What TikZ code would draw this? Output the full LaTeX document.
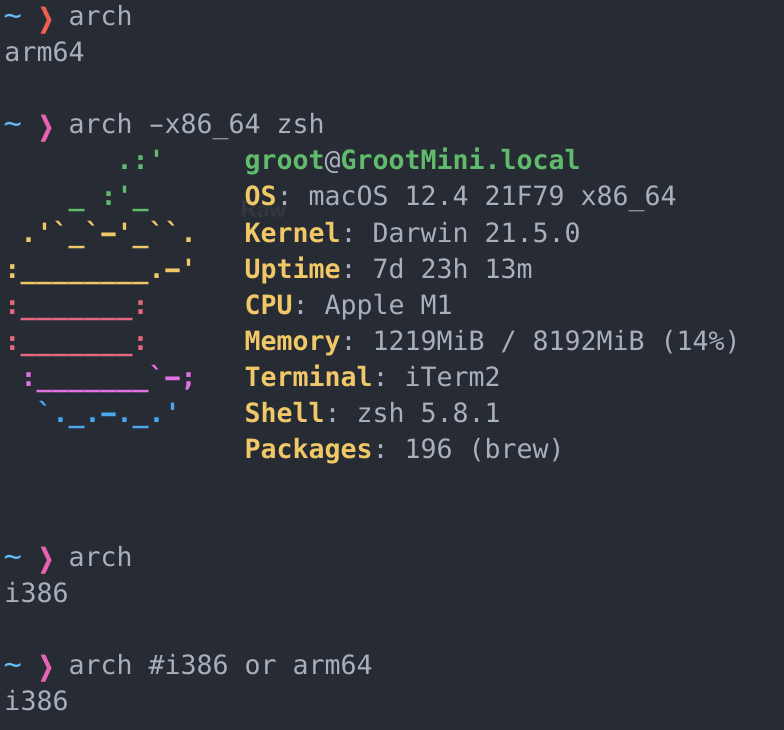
\documentclass[tikz,border=0pt]{standalone}
\usepackage{fontspec}
\usepackage{graphicx}
\setmonofont{DejaVu Sans Mono}
\newfontfamily\chevfont[FakeBold=1.6]{DejaVu Sans}
\definecolor{bgc}{HTML}{272B33}
\definecolor{ghostline}{HTML}{2B2F37}
\definecolor{ghosttext}{HTML}{33373F}
\definecolor{txt}{HTML}{A9B0BD}
\definecolor{tilde}{HTML}{66BEF5}
\definecolor{chevred}{HTML}{EB6050}
\definecolor{chevpink}{HTML}{E862B4}
\definecolor{grn}{HTML}{60BC6C}
\definecolor{ylw}{HTML}{F0C868}
\definecolor{rdd}{HTML}{E6677F}
\definecolor{mgt}{HTML}{E272E4}
\definecolor{blu}{HTML}{4AA8EE}
\newcommand{\hy}{\makebox[16pt]{\scalebox{1.75}[1]{-}}}
\newcommand{\yl}[1]{\textcolor{ylw}{\textbf{#1}}}
\newcommand{\chev}{\raisebox{-1pt}{\scalebox{0.72}[1]{\chevfont ❯}}}
\newcommand{\tld}{\scalebox{1.15}[1.1]{\char`\~}}
\tikzset{
  line/.style={anchor=base west,inner sep=0pt,outer sep=0pt,text=txt,
    font=\fontsize{26.58}{36}\selectfont\ttfamily},
  art/.style={line,font=\fontsize{26.58}{36}\selectfont\ttfamily\bfseries},
  tildemark/.style={line,text=tilde},
  ghost/.style={draw=ghostline,line width=1pt}
}
\begin{document}
\begin{tikzpicture}[x=1pt,y=-1pt]
\fill[bgc] (0,0) rectangle (784,730);
\useasboundingbox (0,0) rectangle (784,730);
% faint ghost layer
\draw[ghost] (0,150) -- (784,150);
\draw[ghost] (0,170) -- (245,170);
\draw[ghost] (332,0) -- (332,730);
\draw[ghost,rounded corners=9pt] (216,183) rectangle (314,237);
\node[line,text=ghosttext,font=\fontsize{24}{28}\selectfont\sffamily\bfseries] (raw) at (240,218) {Raw};
% prompts and output
\node[tildemark] (t1) at (3.5,26) {\tld};
\node[line,text=chevred] (c1) at (38,26) {\chev};
\node[line] (l1) at (68.5,26) {arch};
\node[line] (l2) at (4.5,62) {arm64};
\node[tildemark] (t2) at (3.5,134) {\tld};
\node[line,text=chevpink] (c2) at (38,134) {\chev};
\node[line] (l3) at (68.5,134) {arch \hy{}x86\_64 zsh};
% ascii logo
\node[art,text=grn] (a1) at (116.5,170) {.:'};
\node[art,text=grn] (a2) at (68.5,206) {\_ :'\_};
\node[art,text=ylw] (a3) at (20.5,242) {.'`\_`\hy{}'\_``.};
\node[art,text=ylw] (a4) at (4.5,278) {:\_\_\_\_\_\_\_\_.\hy{}'};
\node[art,text=rdd] (a5) at (4.5,314) {:\_\_\_\_\_\_\_:};
\node[art,text=rdd] (a6) at (4.5,350) {:\_\_\_\_\_\_\_:};
\node[art,text=mgt] (a7) at (20.5,386) {:\_\_\_\_\_\_\_`\hy{};};
\node[art,text=blu] (a8) at (36.5,422) {`.\_.\hy{}.\_.'};
% system info
\node[line] (i0) at (244.5,170) {\textcolor{grn}{\textbf{groot}}@\textcolor{grn}{\textbf{GrootMini.local}}};
\node[line] (i1) at (244.5,206) {\yl{OS}: macOS 12.4 21F79 x86\_64};
\node[line] (i2) at (244.5,242) {\yl{Kernel}: Darwin 21.5.0};
\node[line] (i3) at (244.5,278) {\yl{Uptime}: 7d 23h 13m};
\node[line] (i4) at (244.5,314) {\yl{CPU}: Apple M1};
\node[line] (i5) at (244.5,350) {\yl{Memory}: 1219MiB / 8192MiB (14\%)};
\node[line] (i6) at (244.5,386) {\yl{Terminal}: iTerm2};
\node[line] (i7) at (244.5,422) {\yl{Shell}: zsh 5.8.1};
\node[line] (i8) at (244.5,458) {\yl{Packages}: 196 (brew)};
% lower prompts
\node[tildemark] (t3) at (3.5,566) {\tld};
\node[line,text=chevpink] (c3) at (38,566) {\chev};
\node[line] (l4) at (68.5,566) {arch};
\node[line] (l5) at (4.5,602) {i386};
\node[tildemark] (t4) at (3.5,674) {\tld};
\node[line,text=chevpink] (c4) at (38,674) {\chev};
\node[line] (l6) at (68.5,674) {arch \#i386 or arm64};
\node[line] (l7) at (4.5,710) {i386};
\end{tikzpicture}
\end{document}
